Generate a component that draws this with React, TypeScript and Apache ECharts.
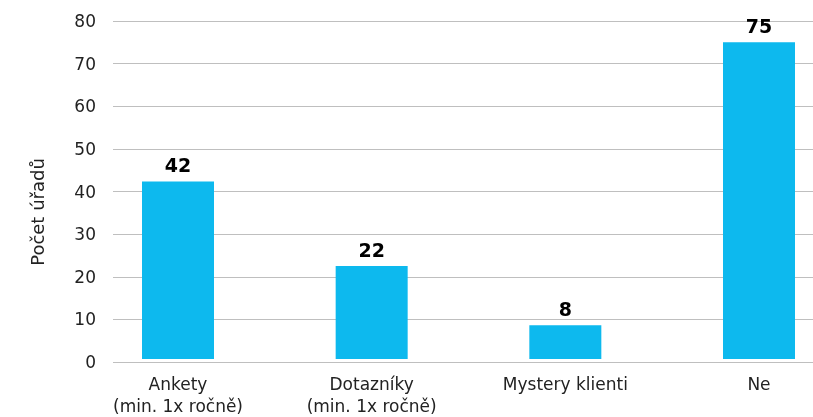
import React, { useEffect, useRef } from "react";
import * as echarts from "echarts";

const categories = ["Ankety\n(min. 1x ročně)", "Dotazníky\n(min. 1x ročně)", "Mystery klienti", "Ne"];
const values = [42, 22, 8, 75];
const yTicks = { min: 0, max: 80, interval: 10 };
const yName = "Počet úřadů";

export default function App() {
  const ref = useRef<HTMLDivElement>(null);
  useEffect(() => {
    if (!ref.current) return;
    const chart = echarts.init(ref.current, null, { renderer: "svg" });
    const font = "'DejaVu Sans', 'Noto Sans', sans-serif";
    chart.setOption({
      animation: false,
      grid: [
        { left: 178, right: 54, top: 21, bottom: 55 },
        { left: 113, right: 0, top: 21, bottom: 55 },
      ],
      graphic: [
        {
          type: "text",
          x: 37,
          y: 212,
          rotation: Math.PI / 2,
          style: {
            text: yName,
            fill: "#222",
            fontSize: 18,
            fontFamily: font,
            textAlign: "center",
            textVerticalAlign: "middle",
          },
        },
      ],
      xAxis: [
        {
          type: "category",
          gridIndex: 0,
          data: categories,
          boundaryGap: false,
          axisLine: { show: false },
          axisTick: { show: false },
          axisLabel: { color: "#222", fontSize: 17, fontFamily: font, lineHeight: 22, margin: 14, interval: 0 },
        },
        { type: "value", gridIndex: 1, show: false },
      ],
      yAxis: [
        { type: "value", gridIndex: 0, ...yTicks, axisLabel: { show: false }, axisLine: { show: false }, axisTick: { show: false }, splitLine: { show: false } },
        {
          type: "value",
          gridIndex: 1,
          ...yTicks,
          axisLine: { show: false },
          axisTick: { show: false },
          axisLabel: { color: "#222", fontSize: 17, fontFamily: font, margin: 17 },
          splitLine: { lineStyle: { color: "#bfbfbf", width: 1 } },
        },
      ],
      series: [
        {
          type: "bar",
          xAxisIndex: 0,
          yAxisIndex: 0,
          data: values,
          barWidth: 72,
          clip: false,
          z: 1,
          itemStyle: { color: "#0DB9EE" },
          label: {
            show: true,
            position: "top",
            distance: 7,
            color: "#000",
            fontWeight: "bold",
            fontSize: 19,
            fontFamily: font,
          },
        },
      ],
    });
    return () => chart.dispose();
  }, []);
  return <div ref={ref} style={{ width: 813, height: 417, position: "fixed", left: 0, top: 0 }} />;
}
